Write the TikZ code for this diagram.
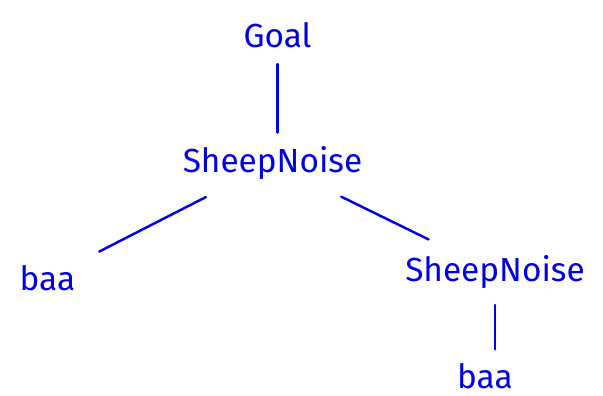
\documentclass[tikz,border=0pt]{standalone}
\usepackage{fontspec}
\setsansfont{Fira Sans}
\usetikzlibrary{positioning}
\definecolor{penblue}{rgb}{0.0, 0.0, 0.9}

\begin{document}
\begin{tikzpicture}[node distance=2cm, auto]
    \useasboundingbox (0,0) rectangle (12.06,7.92);
    \tikzset{
      word/.style={text=penblue, font=\sffamily\fontsize{19}{22}\selectfont, inner sep=2pt},
      branch/.style={penblue, line width=1.4pt, line cap=round, shorten <=0.35cm, shorten >=0.35cm}
    }
    % Nodes of the tree
    \node (goal) [word] at (5.55,7.22) {Goal};
    \node (sheep1) [below of=goal, word, node distance=2.56cm, xshift=-0.1cm] {SheepNoise};
    \node (baa1) [below of=sheep1, word, node distance=2.3cm, xshift=-4.5cm] {baa};
    \node (sheep2) [below of=sheep1, word, node distance=2.18cm, xshift=4.45cm] {SheepNoise};
    \node (baa2) [below of=sheep2, word, node distance=2.08cm, xshift=-0.2cm] {baa};

    % Branches
    \draw[branch, shorten <=0.25cm, shorten >=0.2cm] (goal.south) -- (goal |- sheep1.north);
    \draw[branch, shorten <=0.6cm, shorten >=0.45cm] (sheep1) -- (baa1);
    \draw[branch, shorten <=0.6cm, shorten >=0.55cm] (sheep1) -- (sheep2);
    \draw[branch, shorten <=0.25cm, shorten >=0.2cm] (sheep2.south) -- (sheep2.south |- baa2.north);
  \end{tikzpicture}
\end{document}
